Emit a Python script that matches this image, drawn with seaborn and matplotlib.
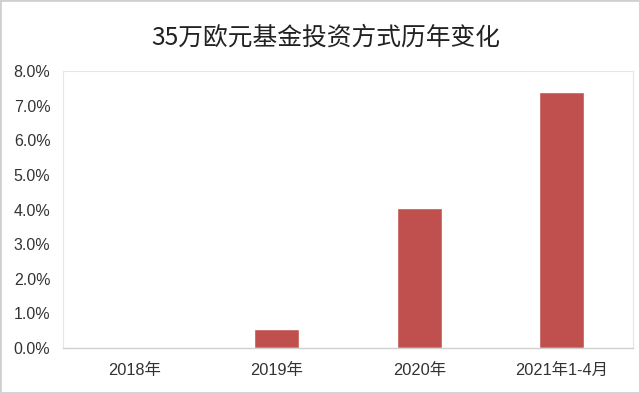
import matplotlib
matplotlib.use("Agg")
import matplotlib.pyplot as plt
import seaborn as sns
import pandas as pd
from matplotlib.ticker import FuncFormatter, MultipleLocator
from matplotlib.patches import Rectangle

categories = ["2018年", "2019年", "2020年", "2021年1-4月"]
values = [0.0, 0.56, 4.03, 7.38]
title = "35万欧元基金投资方式历年变化"

sns.set_theme(style="white")
plt.rcParams['font.family'] = ['Liberation Sans', 'Noto Sans CJK SC', 'DejaVu Sans']

df = pd.DataFrame({"cat": categories, "val": values})

fig = plt.figure(figsize=(6.4, 3.93), dpi=100)
ax = fig.add_axes([63/640, 1-348/393, 570/640, 277/393])
sns.barplot(data=df, x="cat", y="val", color="#C0504D", saturation=1, width=0.315, ax=ax)

ax.set_ylim(0, 8)
ax.yaxis.set_major_locator(MultipleLocator(1))
ax.yaxis.set_major_formatter(FuncFormatter(lambda v, p: f"{v:.1f}%"))
ax.set_xlabel("")
ax.set_ylabel("")
ax.tick_params(axis='both', length=0, colors="#333333")
ax.tick_params(axis='y', pad=9, labelsize=11.5)
ax.tick_params(axis='x', pad=11, labelsize=11.8)
for s in ["left", "top", "right"]:
    ax.spines[s].set_color("#e6e6e6")
    ax.spines[s].set_linewidth(0.8)
ax.spines["bottom"].set_color("#d0d0d0")
ax.spines["bottom"].set_linewidth(1.0)

fig.text(326/640, 1-38/393, title, ha="center", va="center", fontsize=17.8,
         family=['Noto Sans CJK SC', 'DejaVu Sans'], color="#222222")

fig.patches.append(Rectangle((0, 0), 1, 1, transform=fig.transFigure, fill=False,
                             edgecolor="#d0d0d0", linewidth=2))

fig.savefig("out.png", dpi=100)
